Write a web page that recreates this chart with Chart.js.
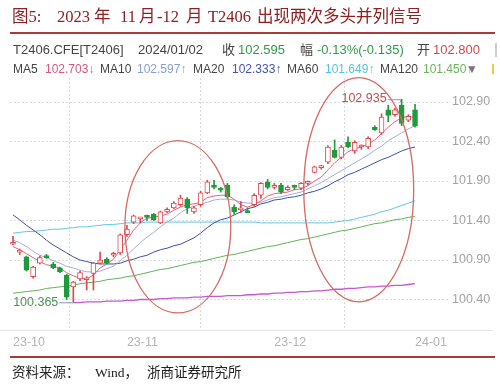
<!DOCTYPE html>
<html><head><meta charset="utf-8">
<script src="https://cdn.jsdelivr.net/npm/chart.js@4.4.1/dist/chart.umd.min.js"></script>
<style>
html,body{margin:0;padding:0;background:#fff;width:500px;height:391px;overflow:hidden;}
#wrap{position:relative;width:500px;height:391px;}
#c{position:absolute;left:0;top:0;}
.t{position:absolute;white-space:nowrap;}
.ti{font-family:"Liberation Serif","Noto Sans CJK SC",serif;font-size:16.5px;color:#8e1f22;top:7px;line-height:20px;}
.h1{font-family:"Liberation Sans","Noto Sans CJK SC",sans-serif;font-size:13px;top:42px;line-height:16px;color:#444;}
.h2{font-family:"Liberation Sans","Noto Sans CJK SC",sans-serif;font-size:12px;top:62px;line-height:15px;color:#444;}
.ft{font-family:"Liberation Serif","Noto Sans CJK SC",serif;font-size:13.5px;top:364px;line-height:18px;color:#222;}
</style></head>
<body><div id="wrap">
<canvas id="c" width="500" height="391"></canvas>
<div class="t ti" style="left:12px">图5:</div>
<div class="t ti" style="left:57px">2023</div>
<div class="t ti" style="left:94px">年</div>
<div class="t ti" style="left:120px">11</div>
<div class="t ti" style="left:139px">月</div>
<div class="t ti" style="left:157px">-12</div>
<div class="t ti" style="left:186px">月</div>
<div class="t ti" style="left:208px">T2406</div>
<div class="t ti" style="left:257px">出现两次多头并列信号</div>
<div style="position:absolute;left:10px;top:32px;width:485px;height:2px;background:#a83a3a"></div>
<div class="t h1" style="left:13px">T2406.CFE[T2406]</div>
<div class="t h1" style="left:138px">2024/01/02</div>
<div class="t h1" style="left:222px">收</div>
<div class="t h1" style="left:238px;color:#2f9a4b">102.595</div>
<div class="t h1" style="left:300px">幅</div>
<div class="t h1" style="left:317px;color:#2f9a4b">-0.13%(-0.135)</div>
<div class="t h1" style="left:417px">开</div>
<div class="t h1" style="left:433px;color:#d64a4a">102.800</div>
<div style="position:absolute;left:495px;top:43px;width:2px;height:14px;background:#ccc"></div>
<div class="t h2" style="left:13px">MA5</div>
<div class="t h2" style="left:45px;color:#d9587a">102.703↓</div>
<div class="t h2" style="left:100px">MA10</div>
<div class="t h2" style="left:137px;color:#8ba0cc">102.597↑</div>
<div class="t h2" style="left:193px">MA20</div>
<div class="t h2" style="left:232px;color:#4553ad">102.333↑</div>
<div class="t h2" style="left:287px">MA60</div>
<div class="t h2" style="left:325px;color:#55c3dc">101.649↑</div>
<div class="t h2" style="left:380px">MA120</div>
<div class="t h2" style="left:423px;color:#6cb35c">101.450↑</div>
<div class="t h2" style="left:466px;color:#777">▼</div>
<div style="position:absolute;left:492px;top:64px;width:2px;height:10px;background:#f2c84b"></div>
<div style="position:absolute;left:10px;top:356px;width:485px;height:2px;background:#a83a3a"></div>
<div class="t ft" style="left:12px">资料来源：</div>
<div class="t ft" style="left:95px">Wind，</div>
<div class="t ft" style="left:147px">浙商证券研究所</div>
</div>
<script>
const dates = ["23-10-09","23-10-10","23-10-11","23-10-12","23-10-13","23-10-16","23-10-17","23-10-18","23-10-19","23-10-20",
"23-10-23","23-10-24","23-10-25","23-10-26","23-10-27","23-10-30","23-10-31",
"23-11-01","23-11-02","23-11-03","23-11-06","23-11-07","23-11-08","23-11-09","23-11-10","23-11-13","23-11-14",
"23-11-15","23-11-16","23-11-17","23-11-20","23-11-21","23-11-22","23-11-23","23-11-24","23-11-27","23-11-28","23-11-29","23-11-30",
"23-12-01","23-12-04","23-12-05","23-12-06","23-12-07","23-12-08","23-12-11","23-12-12","23-12-13","23-12-14","23-12-15",
"23-12-18","23-12-19","23-12-20","23-12-21","23-12-22","23-12-25","23-12-26","23-12-27","23-12-28","23-12-29","24-01-02"];

const open  = [101.10,101.00,100.94,100.69,100.86,100.95,100.85,100.80,100.71,100.56,100.66,100.65,100.73,100.86,100.91,100.96,100.99,101.22,101.38,101.42,
101.45,101.48,101.37,101.51,101.56,101.60,101.67,101.51,101.60,101.75,101.85,101.79,101.85,101.57,101.535,101.51,101.60,101.72,101.89,101.82,
101.85,101.79,101.83,101.81,101.87,102.01,102.07,102.14,102.29,102.20,102.39,102.28,102.33,102.33,102.58,102.51,102.80,102.74,102.86,102.67,102.80];
const high  = [101.20,101.04,100.95,100.82,100.95,100.97,100.87,100.81,100.72,100.63,100.76,100.69,100.87,101.00,100.93,101.00,101.23,101.34,101.47,101.44,
101.47,101.49,101.52,101.56,101.64,101.72,101.69,101.58,101.77,101.91,101.91,101.82,101.87,101.60,101.64,101.56,101.74,101.88,101.92,101.87,
101.87,101.84,101.85,101.88,101.90,102.09,102.10,102.35,102.42,102.35,102.46,102.41,102.36,102.46,102.60,102.75,102.86,102.82,102.935,102.74,102.87];
const low   = [101.09,100.97,100.76,100.67,100.85,100.92,100.79,100.74,100.40,100.365,100.64,100.52,100.52,100.85,100.85,100.94,100.97,101.20,101.36,101.37,
101.40,101.40,101.36,101.50,101.55,101.58,101.49,101.49,101.58,101.74,101.80,101.76,101.68,101.48,101.50,101.50,101.58,101.68,101.80,101.80,
101.74,101.78,101.79,101.79,101.85,102.00,102.05,102.12,102.19,102.18,102.32,102.25,102.30,102.31,102.54,102.49,102.65,102.72,102.60,102.65,102.58];
const close = [101.11,101.01,100.77,100.81,100.93,100.93,100.80,100.75,100.43,100.62,100.74,100.66,100.86,100.90,100.86,100.965,101.22,101.29,101.46,101.425,
101.44,101.41,101.51,101.54,101.62,101.685,101.56,101.56,101.75,101.89,101.82,101.785,101.70,101.51,101.54,101.50,101.72,101.87,101.82,101.825,
101.76,101.82,101.82,101.87,101.875,102.08,102.075,102.33,102.20,102.33,102.33,102.39,102.335,102.44,102.55,102.71,102.73,102.80,102.63,102.72,102.595];

const ma5 = [101.07,101.03,100.98,100.93,100.88,100.84,100.82,100.80,100.74,100.70,100.67,100.66,100.71,100.80,100.85,100.91,101.03,101.15,101.28,101.37,
101.43,101.44,101.46,101.48,101.53,101.57,101.60,101.61,101.63,101.69,101.71,101.72,101.72,101.67,101.60,101.57,101.60,101.65,101.71,101.74,
101.75,101.76,101.79,101.80,101.84,101.90,101.95,102.04,102.13,102.20,102.27,102.31,102.33,102.37,102.42,102.50,102.58,102.65,102.70,102.72,102.70];
const ma10 = [101.15,101.12,101.07,101.01,100.96,100.93,100.89,100.86,100.82,100.80,100.77,100.75,100.75,100.76,100.79,100.82,100.89,100.96,101.04,101.12,
101.19,101.25,101.32,101.38,101.43,101.50,101.55,101.58,101.61,101.63,101.66,101.67,101.67,101.66,101.63,101.62,101.62,101.63,101.66,101.69,
101.70,101.72,101.74,101.76,101.80,101.84,101.88,101.93,101.98,102.03,102.08,102.13,102.18,102.23,102.29,102.34,102.41,102.46,102.51,102.56,102.60];
const ma20 = [101.47,101.41,101.34,101.28,101.22,101.15,101.09,101.04,100.99,100.94,100.90,100.88,100.86,100.85,100.85,100.85,100.86,100.89,100.91,100.94,
100.96,101.00,101.03,101.05,101.08,101.10,101.14,101.18,101.24,101.31,101.37,101.41,101.43,101.47,101.51,101.55,101.57,101.61,101.63,101.66,
101.67,101.69,101.70,101.72,101.75,101.77,101.80,101.84,101.89,101.93,101.98,102.01,102.05,102.09,102.13,102.17,102.20,102.24,102.28,102.31,102.33];
const ma60 = [101.24,101.25,101.26,101.26,101.27,101.28,101.29,101.29,101.30,101.31,101.32,101.32,101.33,101.34,101.35,101.35,101.36,101.37,101.37,101.37,
101.38,101.38,101.38,101.38,101.38,101.38,101.38,101.38,101.38,101.38,101.38,101.38,101.38,101.38,101.38,101.38,101.38,101.37,101.37,101.37,
101.37,101.37,101.37,101.37,101.37,101.37,101.37,101.37,101.38,101.39,101.40,101.42,101.44,101.46,101.48,101.51,101.53,101.56,101.59,101.62,101.65];
const ma120 = [100.48,100.49,100.50,100.51,100.52,100.54,100.55,100.56,100.57,100.58,100.60,100.61,100.62,100.63,100.65,100.66,100.67,100.69,100.70,100.72,
100.74,100.76,100.78,100.79,100.81,100.83,100.85,100.87,100.88,100.90,100.92,100.94,100.96,100.97,100.99,101.01,101.03,101.05,101.07,101.08,
101.10,101.12,101.14,101.16,101.17,101.19,101.21,101.23,101.25,101.27,101.28,101.30,101.32,101.34,101.36,101.37,101.39,101.41,101.42,101.44,101.45];
const ma250 = [null,null,null,null,null,null,null,null,null,100.36,100.36,100.37,100.37,100.37,100.38,100.38,100.38,100.39,100.39,100.40,
100.40,100.40,100.41,100.41,100.42,100.42,100.42,100.43,100.43,100.44,100.44,100.44,100.45,100.45,100.45,100.46,100.46,100.47,100.47,100.48,
100.48,100.49,100.49,100.50,100.50,100.51,100.51,100.52,100.53,100.53,100.54,100.54,100.55,100.56,100.56,100.57,100.57,100.58,100.58,100.59,100.60];

const yTicks = [100.40, 100.90, 101.40, 101.90, 102.40, 102.90];

// annotation ellipses (data units: index / price)
const ellipses = [
  {ci: 24.6, cv: 101.32, ri: 7.9, rv: 1.09},
  {ci: 51.6, cv: 101.79, ri: 8.2, rv: 1.42}
];

const RED = '#e2474d', GREEN = '#1f9a3c';

const monthIdx = [], monthLabel = [];
dates.forEach((d, i) => {
  const m = d.slice(0, 5);
  if (i === 0 || m !== dates[i - 1].slice(0, 5)) { monthIdx.push(i); monthLabel.push(m); }
});

const idx = dates.map((d, i) => i);
const up = idx.map(i => close[i] >= open[i]);
const line = (arr, color, w) => ({
  type: 'line', data: arr.map((v, i) => ({x: i, y: v})), borderColor: color, borderWidth: w || 1,
  pointRadius: 0, tension: 0, order: 2, spanGaps: false
});

const annot = {
  id: 'annot',
  afterDatasetsDraw(chart) {
    const ctx = chart.ctx, xs = chart.scales.x, ys = chart.scales.y;
    ctx.save();
    // ellipses
    ctx.strokeStyle = '#d66a64'; ctx.lineWidth = 1.3;
    ellipses.forEach(e => {
      const cx = xs.getPixelForValue(e.ci), cy = ys.getPixelForValue(e.cv);
      const rx = xs.getPixelForValue(e.ci + e.ri) - cx;
      const ry = cy - ys.getPixelForValue(e.cv + e.rv);
      ctx.beginPath(); ctx.ellipse(cx, cy, rx, ry, 0, 0, Math.PI * 2); ctx.stroke();
    });
    // max / min labels
    let iMax = 0, iMin = 0;
    idx.forEach(i => { if (high[i] > high[iMax]) iMax = i; if (low[i] < low[iMin]) iMin = i; });
    ctx.font = '12.5px "Liberation Sans", Arial, sans-serif';
    ctx.textBaseline = 'middle'; ctx.textAlign = 'right';
    let px = xs.getPixelForValue(iMax), py = ys.getPixelForValue(high[iMax]);
    ctx.strokeStyle = '#8a9aae'; ctx.lineWidth = 1;
    ctx.beginPath(); ctx.moveTo(px - 14, py + 0.5); ctx.lineTo(px - 1, py + 0.5); ctx.lineTo(px - 1, py + 3); ctx.stroke();
    ctx.fillStyle = '#b9514b'; ctx.fillText(high[iMax].toFixed(3), px - 15, py - 1);
    px = xs.getPixelForValue(iMin); py = ys.getPixelForValue(low[iMin]);
    ctx.beginPath(); ctx.moveTo(px - 14, py + 0.5); ctx.lineTo(px, py + 0.5); ctx.stroke();
    ctx.fillStyle = '#4f8f5a'; ctx.fillText(low[iMin].toFixed(3), px - 15, py);
    // bottom axis line
    const b = chart.chartArea.bottom;
    ctx.strokeStyle = '#e3e3e3';
    ctx.beginPath(); ctx.moveTo(0, b + 0.5); ctx.lineTo(493, b + 0.5); ctx.stroke();
    ctx.restore();
  }
};

new Chart(document.getElementById('c'), {
  type: 'bar',
  data: {
    datasets: [
      {
        type: 'bar', data: idx.map(i => ({x: i, y: [open[i], close[i]]})),
        backgroundColor: idx.map(i => up[i] ? '#ffffff' : GREEN),
        borderColor: idx.map(i => up[i] ? RED : GREEN),
        borderWidth: 1, borderSkipped: false, barThickness: 5, minBarLength: 2, grouped: false, order: 0
      },
      {
        type: 'bar', data: idx.map(i => ({x: i, y: [low[i], high[i]]})),
        backgroundColor: idx.map(i => up[i] ? RED : GREEN),
        borderWidth: 0, barThickness: 1, grouped: false, order: 1
      },
      line(ma5, '#e3637f'),
      line(ma10, '#a3acd6'),
      line(ma20, '#3f4da6'),
      line(ma60, '#62c7e2'),
      line(ma120, '#62b25a'),
      line(ma250, '#c656d2', 1.3)
    ]
  },
  options: {
    responsive: false, animation: false, devicePixelRatio: 1,
    layout: {padding: {left: 10, top: 78, right: 0, bottom: 0}},
    plugins: {legend: {display: false}, tooltip: {enabled: false}},
    scales: {
      x: {
        type: 'linear', min: -0.45, max: 65.07, offset: false,
        afterBuildTicks: s => { s.ticks = monthIdx.map(v => ({value: v})); },
        afterFit: s => { s.height = 61; },
        ticks: {autoSkip: false, maxRotation: 0, align: 'start', padding: 5, color: '#b5b5b5',
          font: {size: 12.5, family: '"Liberation Sans", Arial, sans-serif'},
          callback: (v, i) => monthLabel[i]},
        grid: {color: c => c.index === 0 ? 'rgba(0,0,0,0)' : '#d9d9d9', drawTicks: false, lineWidth: 1},
        border: {display: false, dash: [2, 2]}
      },
      y: {
        position: 'right', min: 100.014, max: 103.204,
        afterBuildTicks: s => { s.ticks = yTicks.map(v => ({value: v})); },
        afterFit: s => { s.width = 51; },
        ticks: {padding: 3, color: '#a3a3a3', font: {size: 12.5, family: '"Liberation Sans", Arial, sans-serif'},
          callback: v => Number(v).toFixed(2)},
        grid: {color: '#dcdcdc', drawTicks: false},
        border: {display: false, dash: [2, 2]}
      }
    }
  },
  plugins: [annot]
});
</script>
</body></html>
